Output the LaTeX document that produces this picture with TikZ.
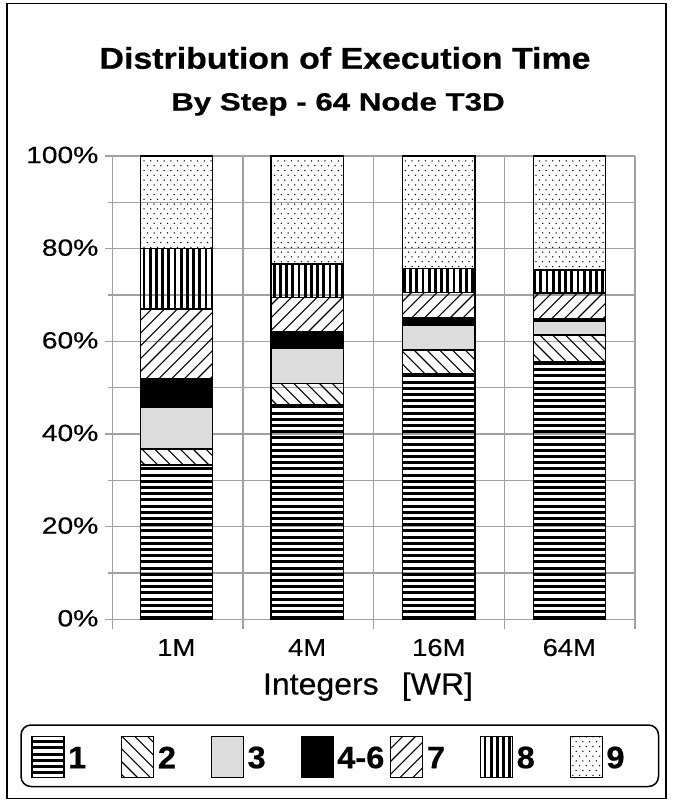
\documentclass[tikz,border=0pt]{standalone}
\usepackage{fontspec}
\setmainfont{Liberation Sans}
\newfontfamily\heavyfont{Liberation Sans Bold}[FakeBold=0.6]
\newfontfamily\medfont{Liberation Sans}[FakeBold=0.35]
\usepackage{graphicx}
\definecolor{gridgray}{HTML}{A0A0A0}
\definecolor{fillthree}{HTML}{DCDCDC}
\newcommand\SX[2]{\scalebox{#1}[1]{#2}}
\tikzset{
  gridln/.style={draw=gridgray, line width=1.3pt},
  barout/.style={draw=black, line width=1.4pt},
  axlbl/.style={inner sep=0pt, font=\fontsize{23.5}{26}\medfont},
  leglbl/.style={inner sep=0pt, anchor=west, font=\fontsize{31}{34}\heavyfont},
  legbox/.style={draw=black, line width=1.2pt}
}
% pattern macros: #1 x0, #2 ytop, #3 x1, #4 ybot (pixel coords, y downwards)
\newcommand\patH[4]{%
 \begin{scope}
 \clip (#1,#2) rectangle (#3,#4);
 \pgfmathtruncatemacro\kA{floor((619.3-(#4))/6.2)-1}
 \pgfmathtruncatemacro\kB{ceil((619.3-(#2))/6.2)+1}
 \foreach \k in {\kA,...,\kB}{
   \pgfmathsetmacro\yy{619.3-1.6-\k*6.2}
   \draw[line width=3pt] (#1,\yy) -- (#3,\yy);
 }
 \end{scope}}
\newcommand\patV[4]{%
 \begin{scope}
 \clip (#1,#2) rectangle (#3,#4);
 \pgfmathtruncatemacro\kA{floor((#1)/6.2)-1}
 \pgfmathtruncatemacro\kB{ceil((#3)/6.2)+1}
 \foreach \k in {\kA,...,\kB}{
   \pgfmathsetmacro\xx{\k*6.2+1.4}
   \draw[line width=2.8pt] (\xx,#2) -- (\xx,#4);
 }
 \end{scope}}
\newcommand\patB[4]{%
 \begin{scope}
 \clip (#1,#2) rectangle (#3,#4);
 \pgfmathtruncatemacro\kA{floor(((#1)-(#4))/12.8)-1}
 \pgfmathtruncatemacro\kB{ceil(((#3)-(#2))/12.8)+1}
 \foreach \k in {\kA,...,\kB}{
   \pgfmathsetmacro\cc{\k*12.8}
   \draw[line width=1.1pt] ({\cc+(#2)},#2) -- ({\cc+(#4)},#4);
 }
 \end{scope}}
\newcommand\patS[4]{%
 \begin{scope}
 \clip (#1,#2) rectangle (#3,#4);
 \pgfmathtruncatemacro\kA{floor(((#1)+(#2))/12.8)-1}
 \pgfmathtruncatemacro\kB{ceil(((#3)+(#4))/12.8)+1}
 \foreach \k in {\kA,...,\kB}{
   \pgfmathsetmacro\cc{\k*12.8}
   \draw[line width=1.1pt] ({\cc-(#2)},#2) -- ({\cc-(#4)},#4);
 }
 \end{scope}}
\newcommand\patD[4]{%
 \begin{scope}
 \clip (#1,#2) rectangle (#3,#4);
 \pgfmathtruncatemacro\jA{floor((619.3-(#4))/4.8)-1}
 \pgfmathtruncatemacro\jB{ceil((619.3-(#2))/4.8)+1}
 \pgfmathtruncatemacro\iA{floor((#1)/6.7)-1}
 \pgfmathtruncatemacro\iB{ceil((#3)/6.7)+1}
 \foreach \j in {\jA,...,\jB}{
   \foreach \i in {\iA,...,\iB}{
     \fill ({\i*6.7+3.35*mod(\j,2)},{619.3-2.4-\j*4.8}) circle (0.75pt);
   }
 }
 \end{scope}}
\newcommand\patG[4]{\fill[fillthree] (#1,#2) rectangle (#3,#4);}
\newcommand\patK[4]{\fill[black] (#1,#2) rectangle (#3,#4);}
% segment: #1 type, #2 x0, #3 x1, #4 p0, #5 p1 (percent)
\newcommand\seg[5]{%
  \pgfmathsetmacro\yb{619.3-4.633*#4}
  \pgfmathsetmacro\yt{619.3-4.633*#5}
  \csname pat#1\endcsname{#2}{\yt}{#3}{\yb}
  \draw[barout] (#2,\yt) rectangle (#3,\yb);
}
% legend item: #1 type, #2 x0, #3 label, #4 name
\newcommand\legitem[4]{%
  \csname pat#1\endcsname{#2}{736.7}{#2+32}{777.3}
  \draw[legbox] (#2,736.7) rectangle ({#2+32},777.3);
  \node[leglbl] (#4) at ({#2+36},757.5) {\SX{1.05}{#3}};
}
\begin{document}
\begin{tikzpicture}[x=1pt,y=-1pt]
\useasboundingbox (0,0) rectangle (673,801);
% outer frame
\draw[line width=1.6pt] (6.8,3.3) rectangle (666.2,798.3);
% titles
\node[inner sep=0pt, font=\fontsize{30}{34}\heavyfont] (title) at (345,58)
  {\SX{1.13}{Distribution of Execution Time}};
\node[inner sep=0pt, anchor=base, font=\fontsize{25}{28}\heavyfont] (subtitle) at (338,110.5)
  {\SX{1.25}{By Step - 64 Node T3D}};
% grid
\foreach \p in {0,20,...,100}{
  \draw[gridln] (105,{619.3-4.633*\p}) -- (635,{619.3-4.633*\p});
}
\foreach \p in {10,30,...,90}{
  \draw[gridln] (108.3,{619.3-4.633*\p}) -- (635,{619.3-4.633*\p});
}
\foreach \x in {112.3,243,373.7,504.3,635}{
  \draw[gridln] (\x,156) -- (\x,628.5);
}
% y labels
\foreach \p/\nm in {0/ya,20/yb,40/yc,60/yd,80/ye,100/yf}{
  \node[axlbl, anchor=east] (\nm) at (98.5,{619.3-4.633*\p-1}) {\SX{1.2}{\p\%}};
}
% bars
\seg{H}{140.2}{212.4}{0}{33.3}
\seg{B}{140.2}{212.4}{33.3}{36.8}
\seg{G}{140.2}{212.4}{36.8}{45.7}
\seg{K}{140.2}{212.4}{45.7}{52.0}
\seg{S}{140.2}{212.4}{52.0}{67.0}
\seg{V}{140.2}{212.4}{67.0}{80.0}
\seg{D}{140.2}{212.4}{80.0}{100}
\seg{H}{271}{343.2}{0}{46.3}
\seg{B}{271}{343.2}{46.3}{50.9}
\seg{G}{271}{343.2}{50.9}{58.6}
\seg{K}{271}{343.2}{58.6}{62.1}
\seg{S}{271}{343.2}{62.1}{69.4}
\seg{V}{271}{343.2}{69.4}{76.7}
\seg{D}{271}{343.2}{76.7}{100}
\seg{H}{402.7}{474.9}{0}{53.1}
\seg{B}{402.7}{474.9}{53.1}{58.1}
\seg{G}{402.7}{474.9}{58.1}{63.4}
\seg{K}{402.7}{474.9}{63.4}{65.0}
\seg{S}{402.7}{474.9}{65.0}{70.6}
\seg{V}{402.7}{474.9}{70.6}{75.7}
\seg{D}{402.7}{474.9}{75.7}{100}
\seg{H}{533.2}{605.4}{0}{55.7}
\seg{B}{533.2}{605.4}{55.7}{61.4}
\seg{G}{533.2}{605.4}{61.4}{64.4}
\seg{K}{533.2}{605.4}{64.4}{64.8}
\seg{S}{533.2}{605.4}{64.8}{70.4}
\seg{V}{533.2}{605.4}{70.4}{75.4}
\seg{D}{533.2}{605.4}{75.4}{100}
% x labels
\node[axlbl, font=\fontsize{24.5}{27}\medfont] (x1) at (176.3,647.5) {\SX{1.12}{1M}};
\node[axlbl, font=\fontsize{24.5}{27}\medfont] (x2) at (307.1,647.5) {\SX{1.12}{4M}};
\node[axlbl, font=\fontsize{24.5}{27}\medfont] (x3) at (438.8,647.5) {\SX{1.12}{16M}};
\node[axlbl, font=\fontsize{24.5}{27}\medfont] (x4) at (569.3,647.5) {\SX{1.12}{64M}};
\node[inner sep=0pt, anchor=base, font=\fontsize{30.5}{34}\medfont] (xtitle) at (368,694.5)
  {\SX{1.05}{Integers\hspace{22pt}[WR]}};
% legend
\draw[line width=1.5pt, rounded corners=10pt] (21,725) rectangle (658.5,786.5);
\legitem{H}{32}{1}{l1}
\legitem{B}{121.7}{2}{l2}
\legitem{G}{211.4}{3}{l3}
\legitem{K}{301.1}{4-6}{l4}
\legitem{S}{390.8}{7}{l7}
\legitem{V}{480.5}{8}{l8}
\legitem{D}{570.2}{9}{l9}
\end{tikzpicture}
\end{document}
